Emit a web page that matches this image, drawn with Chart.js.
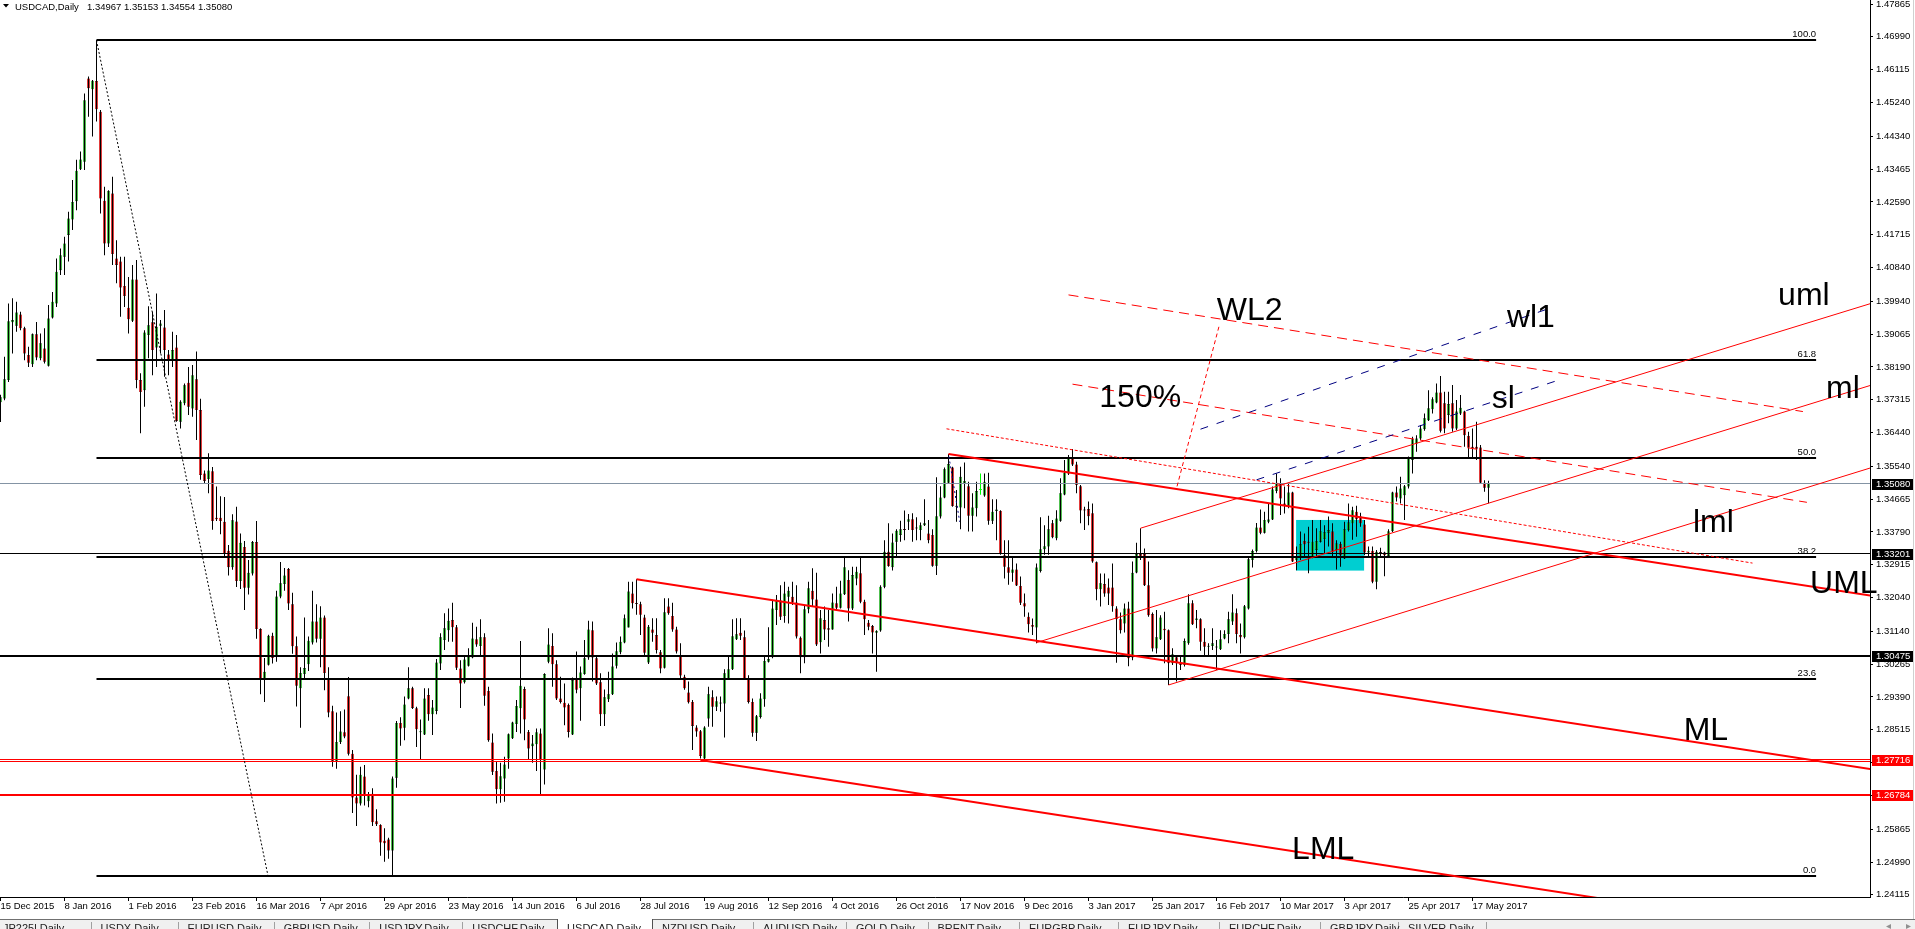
<!DOCTYPE html>
<html>
<head>
<meta charset="utf-8">
<title>USDCAD,Daily</title>
<script src="https://cdn.jsdelivr.net/npm/chart.js@4.4.1/dist/chart.umd.min.js"></script>
<style>
html, body { margin: 0; padding: 0; background: #ffffff; overflow: hidden; }
#chart { display: block; }
</style>
</head>
<body>
<canvas id="chart" width="1915" height="929"></canvas>
<script>
// USDCAD daily candles, 15 Dec 2015 .. 23 May 2017 (one value per bar)
var candleOpen = [
  1.3725, 1.3735, 1.3784, 1.3938, 1.3929, 1.3959, 1.3922, 1.3851, 1.3826, 1.3906,
  1.3842, 1.3868, 1.3822, 1.3951, 1.3988, 1.4077, 1.4113, 1.4171, 1.4212, 1.4261,
  1.4346, 1.4366, 1.4588, 1.4559, 1.4581, 1.4499, 1.4262, 1.4148, 1.4281, 1.4108,
  1.4100, 1.4035, 1.3977, 1.3942, 1.4052, 1.3784, 1.3757, 1.3904, 1.3938, 1.3871,
  1.3929, 1.3924, 1.3852, 1.3837, 1.3871, 1.3673, 1.3722, 1.3777, 1.3708, 1.3786,
  1.3704, 1.3535, 1.3520, 1.3541, 1.3417, 1.3417, 1.3406, 1.3329, 1.3285, 1.3407,
  1.3248, 1.3339, 1.3230, 1.3268, 1.3352, 1.3120, 1.2987, 1.3025, 1.3102, 1.3048,
  1.3207, 1.3240, 1.3280, 1.3186, 1.3074, 1.2962, 1.3000, 1.3026, 1.3084, 1.3140,
  1.3094, 1.3151, 1.2989, 1.2901, 1.2768, 1.2819, 1.2845, 1.2941, 1.2788, 1.2671,
  1.2655, 1.2727, 1.2661, 1.2681, 1.2608, 1.2598, 1.2556, 1.2559, 1.2530, 1.2724,
  1.2870, 1.2857, 1.2935, 1.2962, 1.2909, 1.2845, 1.2839, 1.2944, 1.2893, 1.2902,
  1.3028, 1.3091, 1.3117, 1.3144, 1.3125, 1.3015, 1.2978, 1.3022, 1.3044, 1.3093,
  1.3075, 1.3098, 1.2955, 1.2818, 1.2742, 1.2693, 1.2722, 1.2775, 1.2829, 1.2867,
  1.2909, 1.2960, 1.2846, 1.2808, 1.2813, 1.2842, 1.2746, 1.3033, 1.3075, 1.3026,
  1.2935, 1.2924, 1.2918, 1.2839, 1.2987, 1.2962, 1.3000, 1.3044, 1.3117, 1.3042,
  1.2978, 1.2893, 1.2933, 1.2946, 1.3022, 1.3058, 1.3084, 1.3124, 1.3215, 1.3189,
  1.3186, 1.3151, 1.3031, 1.3119, 1.3104, 1.3058, 1.3017, 1.3180, 1.3155, 1.3119,
  1.3049, 1.2993, 1.2951, 1.2926, 1.2858, 1.2848, 1.2775, 1.2882, 1.2938, 1.2913,
  1.2924, 1.2922, 1.2987, 1.3013, 1.3093, 1.3110, 1.3098, 1.2986, 1.2926, 1.2844,
  1.2886, 1.2933, 1.3033, 1.3045, 1.3171, 1.3196, 1.3155, 1.3206, 1.3206, 1.3191,
  1.3097, 1.3045, 1.3173, 1.3222, 1.3199, 1.3085, 1.3144, 1.3122, 1.3119, 1.3189,
  1.3177, 1.3213, 1.3251, 1.3175, 1.3255, 1.3269, 1.3193, 1.3137, 1.3128, 1.3110,
  1.3116, 1.3233, 1.3326, 1.3285, 1.3353, 1.3371, 1.3386, 1.3406, 1.3413, 1.3389,
  1.3384, 1.3397, 1.3375, 1.3371, 1.3289, 1.3420, 1.3471, 1.3510, 1.3551, 1.3448,
  1.3444, 1.3509, 1.3501, 1.3422, 1.3442, 1.3491, 1.3476, 1.3500, 1.3409, 1.3435,
  1.3435, 1.3317, 1.3285, 1.3270, 1.3279, 1.3235, 1.3189, 1.3153, 1.3131, 1.3124,
  1.3275, 1.3333, 1.3340, 1.3402, 1.3362, 1.3409, 1.3479, 1.3535, 1.3575, 1.3559,
  1.3501, 1.3438, 1.3440, 1.3429, 1.3298, 1.3226, 1.3240, 1.3231, 1.3231, 1.3175,
  1.3146, 1.3135, 1.3175, 1.3044, 1.3271, 1.3320, 1.3320, 1.3237, 1.3160, 1.3068,
  1.3093, 1.3121, 1.3117, 1.3029, 1.3045, 1.3029, 1.3024, 1.3082, 1.3189, 1.3144,
  1.3146, 1.3086, 1.3073, 1.3075, 1.3071, 1.3066, 1.3095, 1.3107, 1.3140, 1.3162,
  1.3104, 1.3098, 1.3175, 1.3304, 1.3328, 1.3391, 1.3377, 1.3406, 1.3412, 1.3488,
  1.3508, 1.3455, 1.3446, 1.3484, 1.3304, 1.3310, 1.3355, 1.3353, 1.3313, 1.3331,
  1.3353, 1.3360, 1.3377, 1.3380, 1.3331, 1.3347, 1.3308, 1.3384, 1.3402, 1.3433,
  1.3420, 1.3399, 1.3324, 1.3329, 1.3246, 1.3324, 1.3324, 1.3315, 1.3381, 1.3484,
  1.3468, 1.3477, 1.3500, 1.3571, 1.3615, 1.3628, 1.3653, 1.3677, 1.3706, 1.3724,
  1.3751, 1.3722, 1.3691, 1.3722, 1.3655, 1.3695, 1.3700, 1.3635, 1.3606, 1.3606,
  1.3604, 1.3510, 1.34967
];
var candleHigh = [
  1.3745, 1.3846, 1.3988, 1.4002, 1.3993, 1.3966, 1.3926, 1.3873, 1.3908, 1.3939,
  1.3908, 1.3922, 1.3984, 1.4019, 1.4108, 1.4135, 1.4166, 1.4233, 1.4317, 1.4371,
  1.4393, 1.4548, 1.4593, 1.4584, 1.4690, 1.4504, 1.4299, 1.4290, 1.4326, 1.4157,
  1.4113, 1.4113, 1.4059, 1.4091, 1.4104, 1.3802, 1.3917, 1.3981, 1.3966, 1.4015,
  1.3944, 1.3971, 1.3864, 1.3913, 1.3904, 1.3730, 1.3775, 1.3819, 1.3824, 1.3860,
  1.3734, 1.3543, 1.3589, 1.3552, 1.3500, 1.3474, 1.3472, 1.3344, 1.3426, 1.3446,
  1.3375, 1.3355, 1.3304, 1.3355, 1.3408, 1.3122, 1.3043, 1.3105, 1.3110, 1.3222,
  1.3299, 1.3283, 1.3283, 1.3217, 1.3100, 1.3018, 1.3151, 1.3100, 1.3222, 1.3186,
  1.3181, 1.3156, 1.3018, 1.2916, 1.2898, 1.2901, 1.2906, 1.2992, 1.2798, 1.2732,
  1.2753, 1.2758, 1.2686, 1.2696, 1.2640, 1.2600, 1.2589, 1.2564, 1.2727, 1.2875,
  1.2885, 1.2940, 1.3018, 1.2966, 1.2913, 1.2879, 1.2962, 1.2962, 1.2931, 1.3040,
  1.3109, 1.3162, 1.3175, 1.3190, 1.3131, 1.3037, 1.3046, 1.3069, 1.3137, 1.3126,
  1.3146, 1.3109, 1.2966, 1.2842, 1.2766, 1.2764, 1.2780, 1.2842, 1.2873, 1.2931,
  1.3088, 1.2966, 1.2851, 1.2838, 1.2855, 1.2855, 1.3002, 1.3122, 1.3109, 1.3037,
  1.2993, 1.2975, 1.2922, 1.2991, 1.3060, 1.3020, 1.3091, 1.3142, 1.3140, 1.3048,
  1.3002, 1.2959, 1.3006, 1.3055, 1.3084, 1.3100, 1.3159, 1.3246, 1.3246, 1.3253,
  1.3193, 1.3158, 1.3131, 1.3149, 1.3149, 1.3064, 1.3202, 1.3202, 1.3190, 1.3126,
  1.3082, 1.2998, 1.2980, 1.2931, 1.2864, 1.2851, 1.2861, 1.2966, 1.2957, 1.2940,
  1.2940, 1.3013, 1.3048, 1.3146, 1.3149, 1.3149, 1.3116, 1.2997, 1.2935, 1.2891,
  1.2949, 1.3046, 1.3125, 1.3198, 1.3211, 1.3237, 1.3246, 1.3233, 1.3246, 1.3237,
  1.3100, 1.3184, 1.3246, 1.3282, 1.3270, 1.3171, 1.3180, 1.3171, 1.3215, 1.3233,
  1.3249, 1.3311, 1.3277, 1.3286, 1.3286, 1.3311, 1.3198, 1.3144, 1.3131, 1.3117,
  1.3237, 1.3357, 1.3402, 1.3375, 1.3386, 1.3409, 1.3436, 1.3427, 1.3429, 1.3418,
  1.3404, 1.3466, 1.3411, 1.3386, 1.3525, 1.3501, 1.3551, 1.3587, 1.3553, 1.3491,
  1.3553, 1.3564, 1.3513, 1.3482, 1.3513, 1.3535, 1.3535, 1.3537, 1.3466, 1.3466,
  1.3437, 1.3357, 1.3357, 1.3313, 1.3295, 1.3260, 1.3215, 1.3164, 1.3148, 1.3295,
  1.3418, 1.3397, 1.3422, 1.3411, 1.3437, 1.3522, 1.3571, 1.3584, 1.3600, 1.3566,
  1.3504, 1.3446, 1.3460, 1.3455, 1.3300, 1.3268, 1.3268, 1.3255, 1.3295, 1.3181,
  1.3164, 1.3188, 1.3193, 1.3300, 1.3350, 1.3389, 1.3335, 1.3300, 1.3164, 1.3171,
  1.3157, 1.3166, 1.3119, 1.3069, 1.3051, 1.3048, 1.3095, 1.3213, 1.3197, 1.3171,
  1.3149, 1.3122, 1.3082, 1.3122, 1.3091, 1.3117, 1.3117, 1.3166, 1.3213, 1.3175,
  1.3135, 1.3184, 1.3313, 1.3332, 1.3403, 1.3439, 1.3433, 1.3455, 1.3500, 1.3535,
  1.3522, 1.3500, 1.3509, 1.3486, 1.3340, 1.3380, 1.3375, 1.3393, 1.3411, 1.3389,
  1.3411, 1.3397, 1.3420, 1.3402, 1.3357, 1.3353, 1.3406, 1.3455, 1.3446, 1.3449,
  1.3430, 1.3411, 1.3340, 1.3340, 1.3331, 1.3337, 1.3326, 1.3386, 1.3486, 1.3500,
  1.3526, 1.3504, 1.3580, 1.3633, 1.3637, 1.3664, 1.3695, 1.3757, 1.3738, 1.3775,
  1.3795, 1.3753, 1.3753, 1.3771, 1.3731, 1.3744, 1.3702, 1.3646, 1.3655, 1.3673,
  1.3611, 1.3517, 1.35153
];
var candleLow = [
  1.3672, 1.3730, 1.3779, 1.3855, 1.3913, 1.3917, 1.3837, 1.3819, 1.3819, 1.3837,
  1.3837, 1.3828, 1.3820, 1.3948, 1.3979, 1.4064, 1.4064, 1.4100, 1.4184, 1.4237,
  1.4344, 1.4344, 1.4486, 1.4433, 1.4473, 1.4228, 1.4117, 1.4139, 1.4091, 1.4042,
  1.3953, 1.3979, 1.3908, 1.3939, 1.3762, 1.3642, 1.3713, 1.3842, 1.3797, 1.3819,
  1.3855, 1.3793, 1.3797, 1.3819, 1.3673, 1.3655, 1.3717, 1.3691, 1.3686, 1.3624,
  1.3518, 1.3508, 1.3482, 1.3385, 1.3408, 1.3373, 1.3314, 1.3263, 1.3278, 1.3232,
  1.3227, 1.3171, 1.3212, 1.3263, 1.3094, 1.2946, 1.2926, 1.3023, 1.3028, 1.3033,
  1.3202, 1.3222, 1.3171, 1.3054, 1.2914, 1.2857, 1.2987, 1.3008, 1.3079, 1.3084,
  1.3018, 1.2957, 1.2885, 1.2753, 1.2748, 1.2814, 1.2829, 1.2783, 1.2630, 1.2595,
  1.2650, 1.2650, 1.2645, 1.2595, 1.2595, 1.2516, 1.2500, 1.2508, 1.2462, 1.2697,
  1.2809, 1.2824, 1.2933, 1.2907, 1.2806, 1.2773, 1.2838, 1.2876, 1.2838, 1.2893,
  1.3011, 1.3064, 1.3086, 1.3086, 1.3011, 1.2910, 1.2975, 1.3020, 1.3042, 1.3073,
  1.3046, 1.2916, 1.2820, 1.2731, 1.2655, 1.2657, 1.2660, 1.2748, 1.2827, 1.2846,
  1.2842, 1.2824, 1.2773, 1.2764, 1.2742, 1.2678, 1.2706, 1.3029, 1.2966, 1.2931,
  1.2922, 1.2864, 1.2831, 1.2838, 1.2949, 1.2876, 1.2998, 1.3038, 1.2980, 1.2971,
  1.2862, 1.2862, 1.2926, 1.2944, 1.3015, 1.3053, 1.3082, 1.3124, 1.3175, 1.3158,
  1.3104, 1.3051, 1.3027, 1.3086, 1.3055, 1.3002, 1.3015, 1.3158, 1.3113, 1.3055,
  1.2989, 1.2958, 1.2922, 1.2798, 1.2833, 1.2775, 1.2771, 1.2860, 1.2860, 1.2902,
  1.2900, 1.2831, 1.2984, 1.3011, 1.3091, 1.3091, 1.2984, 1.2922, 1.2833, 1.2822,
  1.2882, 1.2913, 1.3031, 1.3042, 1.3131, 1.3144, 1.3137, 1.3135, 1.3184, 1.3095,
  1.3002, 1.3029, 1.3162, 1.3180, 1.3075, 1.3055, 1.3091, 1.3073, 1.3118, 1.3171,
  1.3175, 1.3211, 1.3140, 1.3171, 1.3237, 1.3189, 1.3104, 1.3117, 1.3055, 1.3006,
  1.3113, 1.3229, 1.3286, 1.3276, 1.3315, 1.3353, 1.3357, 1.3384, 1.3353, 1.3357,
  1.3357, 1.3395, 1.3349, 1.3286, 1.3264, 1.3415, 1.3469, 1.3509, 1.3446, 1.3406,
  1.3386, 1.3442, 1.3380, 1.3380, 1.3420, 1.3478, 1.3473, 1.3398, 1.3400, 1.3357,
  1.3318, 1.3255, 1.3238, 1.3246, 1.3235, 1.3184, 1.3153, 1.3111, 1.3104, 1.3082,
  1.3271, 1.3318, 1.3318, 1.3362, 1.3357, 1.3406, 1.3477, 1.3531, 1.3555, 1.3482,
  1.3402, 1.3384, 1.3397, 1.3297, 1.3197, 1.3180, 1.3206, 1.3184, 1.3166, 1.3030,
  1.3108, 1.3111, 1.3021, 1.3037, 1.3269, 1.3304, 1.3235, 1.3153, 1.3060, 1.3055,
  1.3091, 1.3029, 1.2971, 1.3024, 1.2980, 1.3011, 1.3020, 1.3078, 1.3131, 1.3122,
  1.3062, 1.3046, 1.3051, 1.3064, 1.3011, 1.3064, 1.3093, 1.3082, 1.3131, 1.3082,
  1.3055, 1.3095, 1.3172, 1.3284, 1.3324, 1.3373, 1.3375, 1.3402, 1.3411, 1.3482,
  1.3424, 1.3428, 1.3442, 1.3299, 1.3277, 1.3304, 1.3313, 1.3269, 1.3309, 1.3315,
  1.3351, 1.3322, 1.3340, 1.3313, 1.3279, 1.3286, 1.3307, 1.3380, 1.3358, 1.3366,
  1.3393, 1.3317, 1.3313, 1.3242, 1.3226, 1.3313, 1.3261, 1.3313, 1.3379, 1.3460,
  1.3455, 1.3411, 1.3495, 1.3535, 1.3593, 1.3624, 1.3649, 1.3675, 1.3695, 1.3722,
  1.3644, 1.3642, 1.3669, 1.3646, 1.3651, 1.3691, 1.3606, 1.3578, 1.3575, 1.3571,
  1.3507, 1.3486, 1.34554
];
var candleClose = [
  1.3738, 1.3786, 1.3941, 1.3944, 1.3964, 1.3922, 1.3855, 1.3830, 1.3906, 1.3844,
  1.3882, 1.3833, 1.3948, 1.3993, 1.4073, 1.4117, 1.4148, 1.4215, 1.4259, 1.4342,
  1.4372, 1.4530, 1.4562, 1.4582, 1.4506, 1.4268, 1.4148, 1.4288, 1.4120, 1.4091,
  1.4031, 1.4008, 1.3946, 1.4052, 1.3784, 1.3752, 1.3911, 1.3930, 1.3864, 1.3926,
  1.3935, 1.3864, 1.3837, 1.3864, 1.3675, 1.3726, 1.3770, 1.3713, 1.3797, 1.3704,
  1.3531, 1.3515, 1.3543, 1.3408, 1.3413, 1.3408, 1.3322, 1.3285, 1.3410, 1.3248,
  1.3350, 1.3230, 1.3270, 1.3352, 1.3120, 1.2987, 1.3006, 1.3102, 1.3043, 1.3207,
  1.3242, 1.3263, 1.3188, 1.3074, 1.2969, 1.3003, 1.3016, 1.3089, 1.3140, 1.3094,
  1.3151, 1.3003, 1.2898, 1.2768, 1.2819, 1.2847, 1.2834, 1.2788, 1.2671, 1.2655,
  1.2732, 1.2676, 1.2676, 1.2605, 1.2600, 1.2551, 1.2549, 1.2530, 1.2722, 1.2870,
  1.2855, 1.2919, 1.2962, 1.2910, 1.2853, 1.2846, 1.2935, 1.2893, 1.2911, 1.3031,
  1.3098, 1.3122, 1.3142, 1.3125, 1.3017, 1.2975, 1.3039, 1.3046, 1.3095, 1.3079,
  1.3098, 1.2942, 1.2824, 1.2740, 1.2693, 1.2728, 1.2759, 1.2840, 1.2871, 1.2915,
  1.2969, 1.2879, 1.2802, 1.2815, 1.2845, 1.2773, 1.3000, 1.3079, 1.3026, 1.2935,
  1.2926, 1.2911, 1.2846, 1.2984, 1.2958, 1.3004, 1.3042, 1.3119, 1.3044, 1.2975,
  1.2893, 1.2938, 1.2946, 1.3020, 1.3061, 1.3086, 1.3149, 1.3220, 1.3189, 1.3187,
  1.3158, 1.3057, 1.3126, 1.3110, 1.3064, 1.3015, 1.3165, 1.3162, 1.3119, 1.3060,
  1.2996, 1.2962, 1.2925, 1.2862, 1.2847, 1.2782, 1.2858, 1.2946, 1.2913, 1.2928,
  1.2922, 1.3002, 1.3013, 1.3101, 1.3106, 1.3102, 1.2988, 1.2926, 1.2844, 1.2888,
  1.2935, 1.3035, 1.3040, 1.3175, 1.3198, 1.3153, 1.3215, 1.3222, 1.3191, 1.3100,
  1.3045, 1.3173, 1.3229, 1.3199, 1.3079, 1.3149, 1.3119, 1.3118, 1.3191, 1.3177,
  1.3215, 1.3285, 1.3175, 1.3264, 1.3273, 1.3193, 1.3146, 1.3126, 1.3111, 1.3115,
  1.3233, 1.3326, 1.3288, 1.3351, 1.3382, 1.3386, 1.3384, 1.3413, 1.3384, 1.3388,
  1.3397, 1.3402, 1.3357, 1.3289, 1.3421, 1.3471, 1.3546, 1.3560, 1.3448, 1.3446,
  1.3526, 1.3515, 1.3422, 1.3444, 1.3488, 1.3491, 1.3513, 1.3409, 1.3433, 1.3439,
  1.3322, 1.3286, 1.3270, 1.3279, 1.3236, 1.3190, 1.3180, 1.3133, 1.3126, 1.3284,
  1.3333, 1.3341, 1.3386, 1.3365, 1.3415, 1.3482, 1.3537, 1.3575, 1.3559, 1.3504,
  1.3436, 1.3436, 1.3421, 1.3300, 1.3226, 1.3242, 1.3215, 1.3215, 1.3181, 1.3146,
  1.3117, 1.3175, 1.3042, 1.3270, 1.3320, 1.3311, 1.3237, 1.3157, 1.3068, 1.3098,
  1.3151, 1.3117, 1.3029, 1.3053, 1.3029, 1.3024, 1.3088, 1.3189, 1.3133, 1.3148,
  1.3086, 1.3073, 1.3075, 1.3082, 1.3073, 1.3093, 1.3107, 1.3146, 1.3164, 1.3107,
  1.3098, 1.3181, 1.3306, 1.3328, 1.3391, 1.3377, 1.3411, 1.3412, 1.3492, 1.3510,
  1.3468, 1.3448, 1.3484, 1.3300, 1.3313, 1.3346, 1.3346, 1.3350, 1.3353, 1.3355,
  1.3381, 1.3378, 1.3384, 1.3326, 1.3348, 1.3317, 1.3386, 1.3404, 1.3437, 1.3413,
  1.3402, 1.3324, 1.3329, 1.3246, 1.3326, 1.3323, 1.3317, 1.3381, 1.3484, 1.3471,
  1.3495, 1.3501, 1.3578, 1.3626, 1.3628, 1.3655, 1.3682, 1.3709, 1.3733, 1.3751,
  1.3649, 1.3655, 1.3720, 1.3655, 1.3700, 1.3710, 1.3637, 1.3604, 1.3602, 1.3601,
  1.3510, 1.3497, 1.35080
];

// time axis: one label every 16 bars, starting at the first bar
var dateLabels = [
  '15 Dec 2015', '8 Jan 2016', '1 Feb 2016', '23 Feb 2016', '16 Mar 2016', '7 Apr 2016',
  '29 Apr 2016', '23 May 2016', '14 Jun 2016', '6 Jul 2016', '28 Jul 2016', '19 Aug 2016',
  '12 Sep 2016', '4 Oct 2016', '26 Oct 2016', '17 Nov 2016', '9 Dec 2016', '3 Jan 2017',
  '25 Jan 2017', '16 Feb 2017', '10 Mar 2017', '3 Apr 2017', '25 Apr 2017', '17 May 2017'
];
var dateStep = 16;

// price axis labels
var priceTicks = [
  1.47865, 1.46990, 1.46115, 1.45240, 1.44340, 1.43465, 1.42590, 1.41715, 1.40840, 1.39940,
  1.39065, 1.38190, 1.37315, 1.36440, 1.35540, 1.34665, 1.33790, 1.32915, 1.32040, 1.31140,
  1.30265, 1.29390, 1.28515, 1.27640, 1.26765, 1.25865, 1.24990, 1.24115
];

// fibonacci from the Jan 2016 top down to the May 2016 bottom
var fibTop = 1.4690;
var fibBottom = 1.2461;
var fibLevels = [100.0, 61.8, 50.0, 38.2, 23.6, 0.0];
var fibBars = [24, 453.9];

// horizontal levels with a price flag on the axis
// current price, 1.33201, 1.30475, 1.27716, 1.26784
var levelPrices = [1.35080, 1.33201, 1.30475, 1.27716, 1.26784];

// consolidation box, Mar 2017
var boxBars = [323.9, 340.9];
var boxPrices = [1.3411, 1.3276];

// drawn objects: [bar1, price1, bar2, price2]
var forkUpper = [237, 1.3587, 470, 1.3205];
var forkMedian = [159, 1.3253, 470, 1.2743];
var forkLower = [175, 1.2771, 470, 1.2287];
var forkUpperSmall = [285, 1.3389, 470, 1.3996];
var forkMedianSmall = [259, 1.3084, 470, 1.3778];
var forkLowerSmall = [292, 1.2971, 470, 1.3558];
var warnUpper = [267, 1.4011, 450.6, 1.3700];
var warnMiddle = [268, 1.3773, 451.6, 1.3458];
var warnDotted = [236.5, 1.3654, 438, 1.3296];
var warnCross = [304.6, 1.3926, 294, 1.3495];
var blueUpper = [300, 1.3653, 388, 1.3978];
var blueLower = [314, 1.3518, 389, 1.3782];
var blueHandle = [237.1, 1.3580, 239.8, 1.3406];
var fibDiagonal = [24, 1.4690, 66.9, 1.2461];

// text objects: label, bar, price of the baseline
var textNames = ['WL2', '150%', 'wl1', 'sl', 'uml', 'ml', 'lml', 'UML', 'ML', 'LML'];
var textBars = [304.05, 274.7, 376.6, 372.8, 444.4, 456.4, 423.1, 452.4, 420.8, 322.9];
var textPrices = [1.39441, 1.37130, 1.39254, 1.37095, 1.39841, 1.37361, 1.33789, 1.32163, 1.28244, 1.25071];

// terminal tabs under the chart
var tabNames = ['JP225l,Daily', 'USDX,Daily', 'EURUSD,Daily', 'GBPUSD,Daily', 'USDJPY,Daily', 'USDCHF,Daily',
  'USDCAD,Daily', 'NZDUSD,Daily', 'AUDUSD,Daily', 'GOLD,Daily', 'BRENT,Daily', 'EURGBP,Daily',
  'EURJPY,Daily', 'EURCHF,Daily', 'GBPJPY,Daily', 'SILVER,Daily'];
var activeTab = 6;

var FONT = "'Liberation Sans', Arial, sans-serif";
var SMALL = '9.5px ' + FONT;
var BIG = '32px ' + FONT;
var BULL = '#22cc22';
var BEAR = '#ff0000';
var DOJI = '#00ff00';

Chart.defaults.font.family = FONT;
Chart.defaults.font.size = 9.5;
Chart.defaults.color = '#000';

var bars = candleOpen.map(function (v, i) { return i; });
var lastBar = bars.length - 1;

var wickData = bars.map(function (i) { return { x: i, y: [candleLow[i], candleHigh[i]] }; });
var bodyData = bars.map(function (i) { return { x: i, y: [candleOpen[i], candleClose[i]] }; });
var wickColors = bars.map(function (i) { return candleOpen[i] === candleClose[i] ? DOJI : '#000'; });
var bodyColors = bars.map(function (i) {
  if (candleClose[i] > candleOpen[i]) return BULL;
  if (candleClose[i] < candleOpen[i]) return BEAR;
  return DOJI;
});
var bodyBorders = bars.map(function (i) { return candleOpen[i] === candleClose[i] ? DOJI : '#000'; });

function px(chart, bar) { return chart.scales.x.getPixelForValue(bar); }
function py(chart, price) { return chart.scales.y.getPixelForValue(price); }

function segment(chart, s, color, width, dash) {
  var c = chart.ctx;
  c.save();
  c.strokeStyle = color;
  c.lineWidth = width;
  c.setLineDash(dash || []);
  c.beginPath();
  c.moveTo(px(chart, s[0]), py(chart, s[1]));
  c.lineTo(px(chart, s[2]), py(chart, s[3]));
  c.stroke();
  c.restore();
}

function level(chart, price, x1, x2, color, width) {
  var c = chart.ctx;
  var y = Math.round(py(chart, price));
  c.fillStyle = color;
  c.fillRect(x1, y - Math.ceil(width / 2), x2 - x1, width);
}

var mt4Objects = {
  id: 'mt4Objects',
  beforeDatasetsDraw: function (chart) {
    var c = chart.ctx;
    var x1 = px(chart, boxBars[0]), x2 = px(chart, boxBars[1]);
    var y1 = py(chart, boxPrices[0]), y2 = py(chart, boxPrices[1]);
    c.save();
    c.fillStyle = '#00ced1';
    c.fillRect(x1, y1, x2 - x1, y2 - y1);
    c.restore();
  },
  afterDatasetsDraw: function (chart) {
    var c = chart.ctx, a = chart.chartArea;
    c.save();
    c.beginPath();
    c.rect(a.left, a.top, a.right - a.left, a.bottom - a.top);
    c.clip();

    // horizontal levels
    level(chart, levelPrices[0], a.left, a.right, '#8494a4', 1);
    level(chart, levelPrices[1], a.left, a.right, '#000', 1);
    level(chart, levelPrices[2], a.left, a.right, '#000', 2);
    var yd = Math.round(py(chart, levelPrices[3]));
    c.fillStyle = '#ff0000';
    c.fillRect(a.left, yd - 1, a.right - a.left, 1);
    c.fillRect(a.left, yd + 1, a.right - a.left, 1);
    level(chart, levelPrices[4], a.left, a.right, '#ff0000', 2);

    // fibonacci levels
    var fx1 = px(chart, fibBars[0]), fx2 = px(chart, fibBars[1]);
    c.font = SMALL;
    c.textAlign = 'right';
    c.textBaseline = 'alphabetic';
    fibLevels.forEach(function (lv) {
      var p = fibBottom + (fibTop - fibBottom) * lv / 100;
      level(chart, p, fx1, fx2, '#000', 2);
      c.fillStyle = '#000';
      c.fillText(lv.toFixed(1), fx2, Math.round(py(chart, p)) - 3);
    });
    segment(chart, fibDiagonal, '#000', 1, [2, 2]);

    // median lines
    segment(chart, forkUpper, '#ff0000', 2);
    segment(chart, forkMedian, '#ff0000', 2);
    segment(chart, forkLower, '#ff0000', 2);
    segment(chart, forkUpperSmall, '#ff0000', 1);
    segment(chart, forkMedianSmall, '#ff0000', 1);
    segment(chart, forkLowerSmall, '#ff0000', 1);
    segment(chart, warnUpper, '#ff0000', 1, [10, 6]);
    segment(chart, warnMiddle, '#ff0000', 1, [10, 6]);
    segment(chart, warnDotted, '#ff0000', 1, [3, 2]);
    segment(chart, warnCross, '#ff0000', 1, [4, 3]);
    segment(chart, blueUpper, '#000080', 1, [8, 9]);
    segment(chart, blueLower, '#000080', 1, [8, 9]);
    segment(chart, blueHandle, '#000080', 1, [2, 3]);
    c.restore();

    // text objects
    c.save();
    c.font = BIG;
    c.fillStyle = '#000';
    c.textAlign = 'left';
    c.textBaseline = 'alphabetic';
    textNames.forEach(function (t, k) {
      c.fillText(t, px(chart, textBars[k]), py(chart, textPrices[k]));
    });
    c.restore();
  },
  afterDraw: function (chart) {
    var c = chart.ctx, a = chart.chartArea, W = chart.width;
    c.save();

    // price flags on the axis
    var flagColors = ['#000', '#000', '#000', '#ff0000', '#ff0000'];
    c.font = SMALL;
    c.textAlign = 'left';
    c.textBaseline = 'middle';
    levelPrices.forEach(function (p, k) {
      var y = Math.round(py(chart, p));
      c.fillStyle = flagColors[k];
      c.fillRect(a.right + 2, y - 5, 41, 11);
      c.fillStyle = '#fff';
      c.fillText(p.toFixed(5), a.right + 6, y + 0.5);
    });

    // symbol header
    c.fillStyle = '#000';
    c.beginPath();
    c.moveTo(3, 4); c.lineTo(9, 4); c.lineTo(6, 7.5); c.closePath();
    c.fill();
    c.textBaseline = 'alphabetic';
    c.fillText('USDCAD,Daily', 15, 9.5);
    c.fillText([candleOpen[lastBar], candleHigh[lastBar], candleLow[lastBar], candleClose[lastBar]]
      .map(function (v) { return v.toFixed(5); }).join(' '), 87, 9.5);

    // window edge
    c.fillStyle = '#d0d0d0';
    c.fillRect(W - 2, 0, 1, 919);

    // tab strip
    var seps = [90.6, 177.5, 273.7, 369.2, 462.2, 557.1, 652, 753, 846, 927.5, 1019, 1118, 1219, 1320, 1398, 1485.6];
    c.fillStyle = '#f0f0f0';
    c.fillRect(0, 919, W, 10);
    c.fillStyle = '#fff';
    c.fillRect(seps[activeTab - 1], 919, seps[activeTab] - seps[activeTab - 1], 10);
    c.fillStyle = '#707070';
    c.fillRect(0, 919, seps[activeTab - 1], 1);
    c.fillRect(seps[activeTab], 919, W - seps[activeTab], 1);
    seps.forEach(function (s, k) {
      c.fillStyle = (k === activeTab || k === activeTab - 1) ? '#505050' : '#a0a0a0';
      c.fillRect(Math.round(s), k === activeTab || k === activeTab - 1 ? 919 : 922, 1, 10);
    });
    c.font = '11px ' + FONT;
    c.fillStyle = '#222';
    tabNames.forEach(function (t, k) {
      var x = k === 0 ? 3 : seps[k - 1] + 10;
      c.fillText(t, x, 931.5);
    });
    c.fillStyle = '#909090';
    c.beginPath(); c.moveTo(1886, 926.5); c.lineTo(1891, 924); c.lineTo(1891, 929); c.closePath(); c.fill();
    c.beginPath(); c.moveTo(1911, 926.5); c.lineTo(1906, 924); c.lineTo(1906, 929); c.closePath(); c.fill();
    c.restore();
  }
};

new Chart(document.getElementById('chart'), {
  type: 'bar',
  data: {
    datasets: [
      {
        data: wickData,
        backgroundColor: wickColors,
        borderWidth: 0,
        barThickness: 1,
        maxBarThickness: 1,
        grouped: false,
        inflateAmount: 0
      },
      {
        data: bodyData,
        backgroundColor: bodyColors,
        borderColor: bodyBorders,
        borderWidth: 0.35,
        borderSkipped: false,
        barThickness: 3,
        maxBarThickness: 3,
        minBarLength: 1,
        grouped: false,
        inflateAmount: 0
      }
    ]
  },
  options: {
    responsive: false,
    animation: false,
    devicePixelRatio: 1,
    events: [],
    layout: { padding: 0 },
    plugins: { legend: { display: false }, tooltip: { enabled: false } },
    scales: {
      x: {
        type: 'linear',
        min: -0.125,
        max: 467.375,
        offset: false,
        afterBuildTicks: function (s) {
          s.ticks = dateLabels.map(function (d, k) { return { value: k * dateStep }; });
        },
        afterFit: function (s) { s.height = 32; s.paddingLeft = 0; s.paddingRight = 0; },
        ticks: {
          autoSkip: false,
          maxRotation: 0,
          align: 'start',
          padding: 0,
          color: '#000',
          font: { size: 9.5 },
          callback: function (v, k) { return dateLabels[k]; }
        },
        grid: { drawOnChartArea: false, drawTicks: true, tickLength: 4, color: '#000', offset: false },
        border: { display: true, color: '#000', width: 1 }
      },
      y: {
        type: 'linear',
        position: 'right',
        min: 1.24058,
        max: 1.47972,
        beginAtZero: false,
        afterBuildTicks: function (s) {
          s.ticks = priceTicks.map(function (v) { return { value: v }; });
        },
        afterFit: function (s) { s.width = 45; s.paddingTop = 0; s.paddingBottom = 0; },
        ticks: {
          autoSkip: false,
          padding: 3,
          color: '#000',
          font: { size: 9.5 },
          callback: function (v) { return v.toFixed(5); }
        },
        grid: { drawOnChartArea: false, drawTicks: true, tickLength: 3, color: '#000' },
        border: { display: true, color: '#000', width: 1 }
      }
    }
  },
  plugins: [mt4Objects]
});
</script>
</body>
</html>
